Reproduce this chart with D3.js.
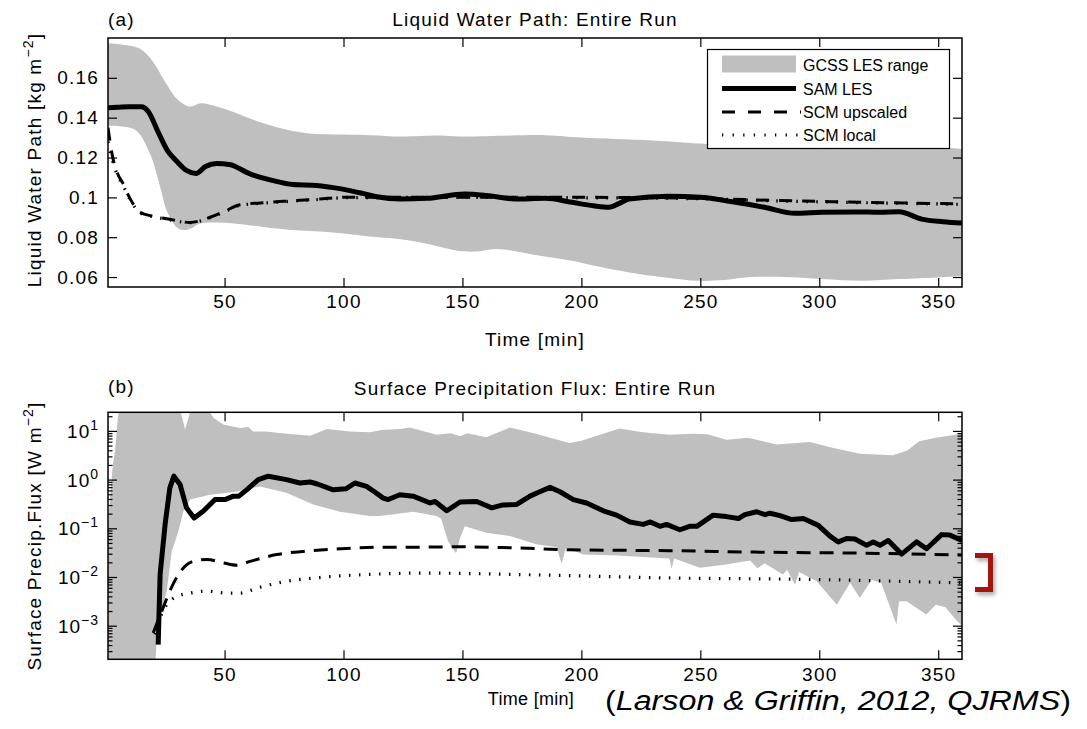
<!DOCTYPE html>
<html><head><meta charset="utf-8">
<script src="https://cdn.jsdelivr.net/npm/d3@7"></script>
<style>
body{margin:0;background:#fff;}
text{font-family:"Liberation Sans",Arial,Helvetica,sans-serif;fill:#000;}
</style>
</head><body>
<svg id="c" width="1087" height="729"></svg>
<script>
// ---------------- DATA ----------------
const xTicks = [50,100,150,200,250,300,350];
const lwpTicks = [0.06,0.08,0.1,0.12,0.14,0.16];
const lwpTickLabels = ["0.06","0.08","0.1","0.12","0.14","0.16"];
const precipTickExps = [-3,-2,-1,0,1];
const legendLabels = ["GCSS LES range","SAM LES","SCM upscaled","SCM local"];

// (a) Liquid water path [kg m^-2]
const lwpBandUpperT = [1,8,14.5,20,25,30,35.5,40,47,54,62,72,84.5,100,112,124,140,150,185,200,230,253,280,301,330,345,360];
const lwpBandUpperV = [0.1774,0.1765,0.1746,0.168,0.158,0.1494,0.1456,0.1472,0.1455,0.1427,0.139,0.1352,0.1322,0.1315,0.1312,0.1305,0.131,0.1305,0.1312,0.130,0.1285,0.1268,0.1268,0.1265,0.1262,0.1258,0.1243];
const lwpBandLowerT = [1,8,13,18.7,23,25.7,30,32.7,36,39.7,46.7,55,67.7,80,95.6,110,124,136,148,156,164.5,180,196,208,220,235,249.5,260,269,285,301,318,333.5,350,360];
const lwpBandLowerV = [0.136,0.1355,0.1335,0.1218,0.105,0.0933,0.0849,0.0836,0.0845,0.0869,0.0874,0.0868,0.0849,0.0835,0.0824,0.0805,0.079,0.0765,0.0732,0.0728,0.0741,0.0712,0.0682,0.065,0.0623,0.0598,0.0581,0.0585,0.0598,0.060,0.059,0.0581,0.059,0.0598,0.0605];

const lwpSamT = [1,5,10,15,18,22,26,30,34,38,42,46.7,52,60.7,70,78.8,88.7,95,102.7,108,114,124,135,151,160,172,185,196,205,211.6,216,220,236.7,250,260.8,270,277,289.8,301,315,325.5,333.5,343,352,360];
const lwpSamV = [0.145,0.1452,0.1455,0.1455,0.143,0.133,0.1235,0.118,0.1135,0.112,0.1155,0.117,0.1165,0.1118,0.1085,0.1064,0.106,0.105,0.1034,0.102,0.1003,0.0992,0.0995,0.1017,0.101,0.0992,0.0995,0.0975,0.0958,0.095,0.097,0.0992,0.1005,0.100,0.0983,0.0965,0.095,0.092,0.0925,0.0927,0.0925,0.0928,0.0891,0.0878,0.0871];

const lwpUpT = [1,3,5,7.3,10,14.5,20,25.7,35.5,43.9,50,56.5,65,74.7,90,100,150,200,250,280,320,360];
const lwpUpV = [0.135,0.12,0.112,0.107,0.100,0.0925,0.0905,0.0893,0.0874,0.090,0.093,0.0963,0.0972,0.098,0.0992,0.100,0.100,0.100,0.0995,0.0985,0.0975,0.0967];
const lwpLocT = [1,3,5,7.3,10,14.5,20,25.7,35.5,43.9,50,56.5,65,74.7,90,100,150,200,250,280,320,360];
const lwpLocV = [0.128,0.118,0.111,0.106,0.0995,0.0922,0.0903,0.089,0.0873,0.0898,0.0928,0.096,0.097,0.0978,0.099,0.0998,0.100,0.0998,0.0993,0.0983,0.0973,0.0965];

// (b) Surface precipitation flux, values given as log10 of W m^-2
const prBandUpperT = [1,2,3,4,5,6,30,31.5,33.4,35,36.5,40,43,45.3,49.5,56.5,60,62,67.7,72,86,93,102.7,111,116,123.7,128,139,145,149,152,160,170,180,195,200,216,225,237,247,253,261,270,282,296,306,317,331,337,342,349,360];
const prBandUpperLog = [-0.9,-0.3,0.3,0.6,1.2,1.6,1.6,1.4,1.03,1.3,1.6,1.6,1.45,1.27,1.13,1.06,1.08,0.99,0.99,0.96,0.9,1.04,0.99,0.97,1.02,1.04,1.07,0.92,0.95,0.89,0.95,0.87,1.07,0.95,0.75,0.8,1.05,0.98,0.92,0.94,0.93,0.82,0.86,0.72,0.77,0.65,0.53,0.5,0.6,0.79,0.86,0.94];
const prBandLowerT = [1,20,21,21.5,23.5,25.7,27.8,30.6,32.7,35.5,43.9,55,64.9,76,87.3,98.5,111,115.3,129.3,139,141,144,147.3,149,151,160,170,181,189.6,191.7,193.5,200.8,215,237,237.9,239,249.8,260,270.9,274,277,284.7,286.5,289.8,291.5,298.9,307.4,313,317,322,326,332.5,333.5,336.7,345,349,353,358,360];
const prBandLowerLog = [-4,-4,-3.7,-3.25,-2.7,-2.29,-1.47,-1.06,-0.65,-0.41,-0.31,-0.25,-0.14,-0.27,-0.51,-0.66,-0.75,-0.75,-0.66,-0.75,-0.8,-1.27,-1.51,-1.2,-0.96,-1.09,-1.16,-1.33,-1.39,-1.73,-1.4,-1.54,-1.56,-1.62,-1.83,-1.62,-1.81,-1.75,-1.66,-1.82,-1.72,-1.95,-1.85,-2.16,-1.9,-2.09,-2.57,-2.12,-2.43,-2.06,-2.12,-2.98,-2.5,-2.5,-2.77,-2.57,-2.62,-2.91,-3.0];

const prSamT = [22.1,22.9,25,27,28.7,31.3,34,37.2,41,46,50.2,53.7,56,59.3,64.2,68.4,76,81.7,86,89,95.7,101,104.8,109.7,113,116.7,118.8,123.7,129.3,136.4,138.5,143.4,149,156,162.3,167,172.8,178.4,182.5,186.8,191,196.6,202.2,209.2,214.8,220.4,226,229,233,235.8,241.4,245.5,248.5,255.4,261,266,268.7,273.7,277.2,279.3,283.5,288.4,293.3,299.6,304.5,308,311.5,315,319.9,322.7,325.5,329,334.6,340.9,345.1,351.4,354.9,360];
const prSamLog = [-3.39,-1.95,-0.92,-0.17,0.07,-0.1,-0.58,-0.79,-0.65,-0.41,-0.41,-0.34,-0.34,-0.21,0.0,0.07,0.0,-0.07,-0.05,-0.09,-0.21,-0.19,-0.07,-0.14,-0.25,-0.38,-0.41,-0.31,-0.34,-0.48,-0.45,-0.64,-0.46,-0.45,-0.58,-0.52,-0.51,-0.34,-0.25,-0.16,-0.25,-0.41,-0.48,-0.64,-0.73,-0.87,-0.92,-0.87,-0.96,-0.92,-1.03,-0.96,-0.96,-0.73,-0.76,-0.8,-0.72,-0.66,-0.72,-0.69,-0.74,-0.82,-0.8,-0.94,-1.16,-1.28,-1.21,-1.22,-1.35,-1.28,-1.35,-1.25,-1.53,-1.28,-1.42,-1.13,-1.14,-1.25];

const prUpT = [20,23.6,27,30.6,34,38.3,42.5,49.5,55.1,60.7,71.9,84.5,98.5,114,125,149,170,195,237,275,317,360];
const prUpLog = [-3.15,-2.7,-2.29,-1.95,-1.75,-1.66,-1.64,-1.71,-1.76,-1.68,-1.54,-1.47,-1.42,-1.39,-1.39,-1.38,-1.4,-1.44,-1.46,-1.49,-1.51,-1.55];
const prLocT = [20.8,22.9,25.7,29.9,35.5,42.5,50.9,56.5,64.9,76,90.1,114,135,174,237,296,360];
const prLocLog = [-3.18,-2.84,-2.57,-2.4,-2.33,-2.29,-2.33,-2.33,-2.21,-2.09,-2.01,-1.94,-1.92,-1.95,-2.02,-2.05,-2.12];

// ---------------- DRAW ----------------
const svg = d3.select("#c");
const FONT = '"Liberation Sans",Arial,Helvetica,sans-serif';
const L = 108, R = 962;
const topP = {t:38, b:287};
const botP = {t:412.3, b:659.3};

const x = d3.scaleLinear().domain([1,360]).range([L,R]);
const yA = d3.scaleLinear().domain([0.055,0.18]).range([topP.b, topP.t]);
const yB = d3.scaleLog().domain([2.04e-4, 24.1]).range([botP.b, botP.t]);

const defs = svg.append("defs");
defs.append("clipPath").attr("id","clipA").append("rect").attr("x",L).attr("y",topP.t).attr("width",R-L).attr("height",topP.b-topP.t);
defs.append("clipPath").attr("id","clipB").append("rect").attr("x",L).attr("y",botP.t).attr("width",R-L).attr("height",botP.b-botP.t);
const f = defs.append("filter").attr("id","shadow").attr("x","-50%").attr("y","-50%").attr("width","200%").attr("height","200%");
f.append("feDropShadow").attr("dx",2).attr("dy",3).attr("stdDeviation",2).attr("flood-color","#000").attr("flood-opacity",0.35);

const GRAY = "#bfbfbf";
const zip = (ts, vs) => ts.map((t,i)=>[t, vs[i]]);
const pow = e => Math.pow(10, e);

function bandPath(yS, upT, upV, loT, loV, curve){
  const up = zip(upT, upV).map(d=>[x(d[0]), yS(d[1])]);
  const lo = zip(loT, loV).map(d=>[x(d[0]), yS(d[1])]).reverse();
  const g = d3.line().curve(curve);
  return g(up) + "L" + g(lo).slice(1) + "Z";
}

// ---- panel (a)
const gA = svg.append("g").attr("clip-path","url(#clipA)");
gA.append("path").attr("d", bandPath(yA, lwpBandUpperT, lwpBandUpperV, lwpBandLowerT, lwpBandLowerV, d3.curveCatmullRom.alpha(0.5)))
  .attr("fill",GRAY).attr("stroke","none");
const lineA = d3.line().x(d=>x(d[0])).y(d=>yA(d[1])).curve(d3.curveMonotoneX);
gA.append("path").attr("d", lineA(zip(lwpUpT,lwpUpV))).attr("fill","none").attr("stroke","#000").attr("stroke-width",3).attr("stroke-dasharray","13,10");
gA.append("path").attr("d", lineA(zip(lwpLocT,lwpLocV))).attr("fill","none").attr("stroke","#000").attr("stroke-width",3.2).attr("stroke-dasharray","1.5,8.5");
gA.append("path").attr("d", lineA(zip(lwpSamT,lwpSamV))).attr("fill","none").attr("stroke","#000").attr("stroke-width",5).attr("stroke-linejoin","round");

// ---- panel (b)
const gB = svg.append("g").attr("clip-path","url(#clipB)");
gB.append("path").attr("d", bandPath(yB, prBandUpperT, prBandUpperLog.map(pow), prBandLowerT, prBandLowerLog.map(pow), d3.curveLinear))
  .attr("fill",GRAY).attr("stroke","none");
const lineB = d3.line().x(d=>x(d[0])).y(d=>yB(d[1]));
gB.append("path").attr("d", lineB.curve(d3.curveMonotoneX)(zip(prUpT,prUpLog.map(pow)))).attr("fill","none").attr("stroke","#000").attr("stroke-width",3).attr("stroke-dasharray","14,9");
gB.append("path").attr("d", lineB.curve(d3.curveMonotoneX)(zip(prLocT,prLocLog.map(pow)))).attr("fill","none").attr("stroke","#000").attr("stroke-width",3.2).attr("stroke-dasharray","1.5,8.5");
gB.append("path").attr("d", lineB.curve(d3.curveLinear)(zip(prSamT,prSamLog.map(pow)))).attr("fill","none").attr("stroke","#000").attr("stroke-width",5).attr("stroke-linejoin","round");

// ---- axes
function styleAxis(g){
  g.select(".domain").remove();
  g.selectAll(".tick line").attr("stroke","#000").attr("stroke-width",1.2);
  g.selectAll("text").attr("font-family",FONT).style("font-size","19px").style("letter-spacing","1.2px").attr("fill","#000");
  g.attr("font-family",null).attr("font-size",null);
}
function frame(yTop, yBot){
  svg.append("rect").attr("x",L).attr("y",yTop).attr("width",R-L).attr("height",yBot-yTop).attr("fill","none").attr("stroke","#000").attr("stroke-width",1.5);
}

// panel a axes
styleAxis(svg.append("g").attr("transform",`translate(0,${topP.b})`).call(d3.axisBottom(x).tickValues(xTicks).tickSize(-9).tickPadding(8)));
styleAxis(svg.append("g").attr("transform",`translate(0,${topP.t})`).call(d3.axisTop(x).tickValues(xTicks).tickSize(-9).tickFormat("")));
styleAxis(svg.append("g").attr("transform",`translate(${L},0)`).call(d3.axisLeft(yA).tickValues(lwpTicks).tickSize(-9).tickPadding(9).tickFormat((d,i)=>lwpTickLabels[i])));
styleAxis(svg.append("g").attr("transform",`translate(${R},0)`).call(d3.axisRight(yA).tickValues(lwpTicks).tickSize(-9).tickFormat("")));
frame(topP.t, topP.b);

// panel b axes
styleAxis(svg.append("g").attr("transform",`translate(0,${botP.b})`).call(d3.axisBottom(x).tickValues(xTicks).tickSize(-9).tickPadding(8)));
styleAxis(svg.append("g").attr("transform",`translate(0,${botP.t})`).call(d3.axisTop(x).tickValues(xTicks).tickSize(-9).tickFormat("")));
const majors = precipTickExps.map(pow);
const minors = [];
for (let e=-4; e<=1; e++) for (let m=2; m<=9; m++){ const v=m*Math.pow(10,e); if (v>=yB.domain()[0] && v<=yB.domain()[1]) minors.push(v); }
[["Left",L],["Right",R]].forEach(([side,pos])=>{
  const ax = side==="Left" ? d3.axisLeft : d3.axisRight;
  styleAxis(svg.append("g").attr("transform",`translate(${pos},0)`).call(ax(yB).tickValues(majors).tickSize(-9).tickFormat("")));
  styleAxis(svg.append("g").attr("transform",`translate(${pos},0)`).call(ax(yB).tickValues(minors).tickSize(-4.5).tickFormat("")));
});
precipTickExps.forEach(e=>{
  const t = svg.append("text").attr("x",99).attr("y",yB(pow(e))+7).attr("text-anchor","end")
    .style("font-size","19px").style("letter-spacing","1px");
  t.append("tspan").text("10");
  t.append("tspan").attr("dy",-8).style("font-size","14px").text(e<0 ? "\u2212"+(-e) : String(e));
});
frame(botP.t, botP.b);

// ---- titles & labels
function txt(x0,y0,s,opts={}){
  const t = svg.append("text").attr("x",x0).attr("y",y0).attr("text-anchor",opts.anchor||"start")
    .style("font-size",(opts.size||19)+"px").style("letter-spacing",(opts.ls!=null?opts.ls:1.2)+"px");
  if (opts.tr) t.attr("transform",opts.tr);
  t.text(s); return t;
}
txt(108,26,"(a)");
txt(535,26,"Liquid Water Path: Entire Run",{anchor:"middle"});
txt(535,346,"Time [min]",{anchor:"middle"});
txt(108,393,"(b)");
txt(535,395,"Surface Precipitation Flux: Entire Run",{anchor:"middle"});
txt(531,705,"Time [min]",{anchor:"middle",size:18,ls:0.3});

function ylab(cx, cy, main){
  const t = svg.append("text").attr("transform",`translate(${cx},${cy}) rotate(-90)`).attr("text-anchor","middle")
    .style("font-size","19px").style("letter-spacing","1.2px");
  t.append("tspan").text(main);
  t.append("tspan").attr("dy",-8).style("font-size","14px").text("\u22122");
  t.append("tspan").attr("dy",8).text("]");
}
ylab(41,160,"Liquid Water Path [kg m");
ylab(41,536,"Surface Precip.Flux [W m");

// citation
const cit = svg.append("text").attr("x",605).attr("y",710).style("font-size","27px")
  .attr("textLength",466).attr("lengthAdjust","spacingAndGlyphs");
cit.append("tspan").text("(");
cit.append("tspan").style("font-style","italic").text("Larson & Griffin, 2012, QJRMS");
cit.append("tspan").text(")");

// ---- legend
const lg = svg.append("g");
lg.append("rect").attr("x",707.5).attr("y",49.5).attr("width",242).attr("height",99).attr("fill","#fff").attr("stroke","#000").attr("stroke-width",1.2);
const rows = [65,88.5,112,135];
lg.append("rect").attr("x",722).attr("y",55.5).attr("width",74).attr("height",17).attr("fill",GRAY);
lg.append("line").attr("x1",722).attr("x2",796).attr("y1",rows[1]).attr("y2",rows[1]).attr("stroke","#000").attr("stroke-width",5);
lg.append("line").attr("x1",722).attr("x2",801).attr("y1",rows[2]).attr("y2",rows[2]).attr("stroke","#000").attr("stroke-width",3).attr("stroke-dasharray","13,13");
lg.append("line").attr("x1",722).attr("x2",798).attr("y1",rows[3]).attr("y2",rows[3]).attr("stroke","#000").attr("stroke-width",3).attr("stroke-dasharray","1.3,9.3");
legendLabels.forEach((s,i)=>{
  lg.append("text").attr("x",803).attr("y",rows[i]+6).style("font-size","16px").text(s);
});

// ---- red bracket
svg.append("path").attr("d","M975,555.5 H990.5 V589.5 H975").attr("fill","none")
  .attr("stroke","#a3170c").attr("stroke-width",5).attr("filter","url(#shadow)");
</script>
</body></html>
